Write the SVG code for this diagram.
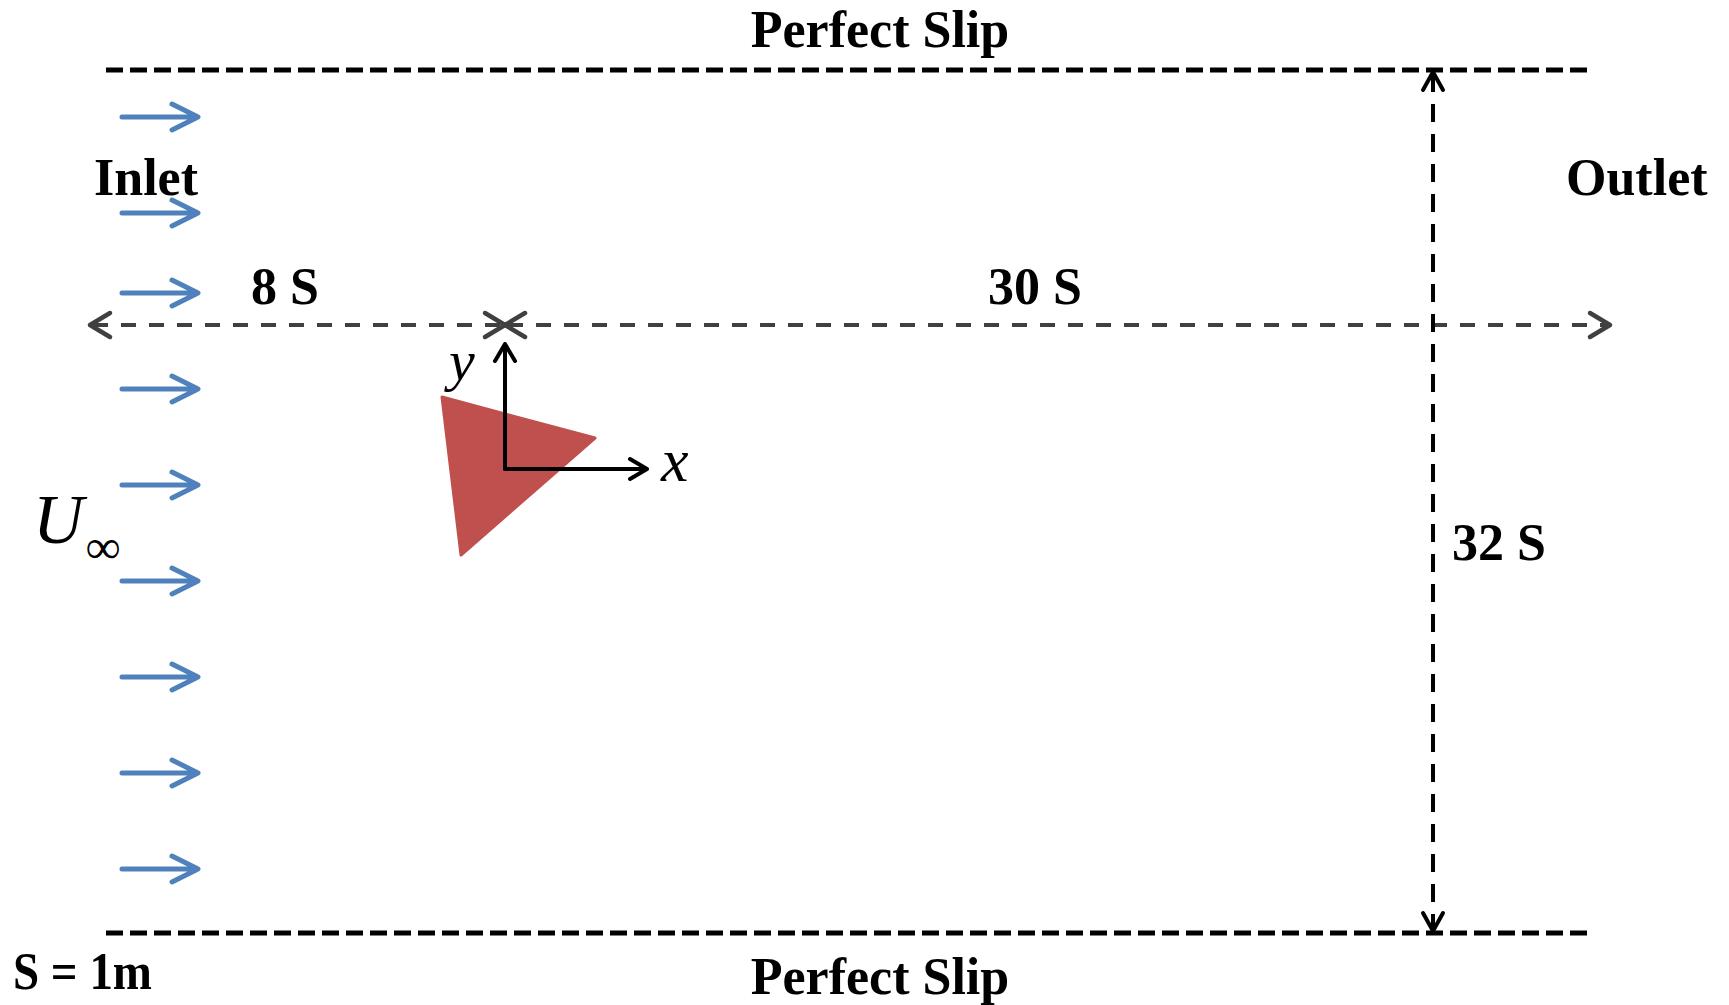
<svg xmlns="http://www.w3.org/2000/svg" width="1729" height="1005" viewBox="0 0 1729 1005">
<style>
.lbl{font-family:"Liberation Serif","Times New Roman",serif;font-weight:bold;font-size:52px;fill:#000}
.it{font-family:"Liberation Serif","Times New Roman",serif;font-style:italic;fill:#000}
.wall{fill:none;stroke:#000;stroke-width:5;stroke-dasharray:17 7}
.dimv{fill:none;stroke:#000;stroke-width:4;stroke-dasharray:18 12}
.dimh{fill:none;stroke:#404040;stroke-width:4;stroke-dasharray:15 13}
.chevk{fill:none;stroke:#000;stroke-width:4;stroke-linecap:round;stroke-linejoin:round}
.chevg{fill:none;stroke:#404040;stroke-width:4.5;stroke-linecap:round;stroke-linejoin:round}
.flow{fill:none;stroke:#4F81BD;stroke-width:5;stroke-linecap:round;stroke-linejoin:round}
.axis{fill:none;stroke:#000;stroke-width:4;stroke-linecap:round;stroke-linejoin:round}
</style>
<defs>
<path id="flowArrow" class="flow" d="M122 0 H196 M172 -13 L198 0 L172 13"/>
</defs>
<rect width="1729" height="1005" fill="#fff"/>

<g id="boundaries">
<path class="wall" d="M106 70 H1588"/>
<path class="wall" d="M106 933 H1588"/>
</g>

<g id="connectors">
<path class="dimh" d="M93 325 H502"/>
<path class="dimh" d="M508 325 H1607"/>
<path class="chevg" d="M110 313 L90 325 L110 337"/>
<path class="chevg" d="M485 313 L505 325 L485 337"/>
<path class="chevg" d="M525 313 L505 325 L525 337"/>
<path class="chevg" d="M1590 313 L1610 325 L1590 337"/>
<path class="dimv" d="M1433 74 V929"/>
<path class="chevk" d="M1423 90 L1433 72 L1443 90"/>
<path class="chevk" d="M1423 913 L1433 931 L1443 913"/>
</g>

<g id="inflow">
<use href="#flowArrow" y="117"/>
<use href="#flowArrow" y="213"/>
<use href="#flowArrow" y="293"/>
<use href="#flowArrow" y="389"/>
<use href="#flowArrow" y="485"/>
<use href="#flowArrow" y="581"/>
<use href="#flowArrow" y="677"/>
<use href="#flowArrow" y="773"/>
<use href="#flowArrow" y="869"/>
</g>

<g id="body">
<polygon points="442,397 595,438 461,555" fill="#C0504D" stroke="#C0504D" stroke-width="3" stroke-linejoin="round"/>
</g>

<g id="axes">
<path class="axis" d="M505 469 V344 M495 361 L505 344 L515 361"/>
<path class="axis" d="M505 469 H647 M630 459 L647 469 L630 479"/>
<text class="it" x="661" y="481" font-size="62">x</text>
<text class="it" x="449" y="380" font-size="58">y</text>
</g>

<g id="labels">
<text class="lbl" x="880" y="47" text-anchor="middle">Perfect Slip</text>
<text class="lbl" x="880" y="994" text-anchor="middle">Perfect Slip</text>
<text class="lbl" x="94" y="195">Inlet</text>
<text class="lbl" x="1566" y="195">Outlet</text>
<text class="lbl" x="251" y="304">8 S</text>
<text class="lbl" x="988" y="304">30 S</text>
<text class="lbl" x="1452" y="560">32 S</text>
<text class="lbl" x="13" y="989" font-size="48" textLength="139" lengthAdjust="spacingAndGlyphs">S = 1m</text>
<text class="it" x="33" y="543" font-size="70">U</text>
<text class="it" x="86" y="563" font-size="48" font-style="normal">∞</text>
</g>
</svg>
